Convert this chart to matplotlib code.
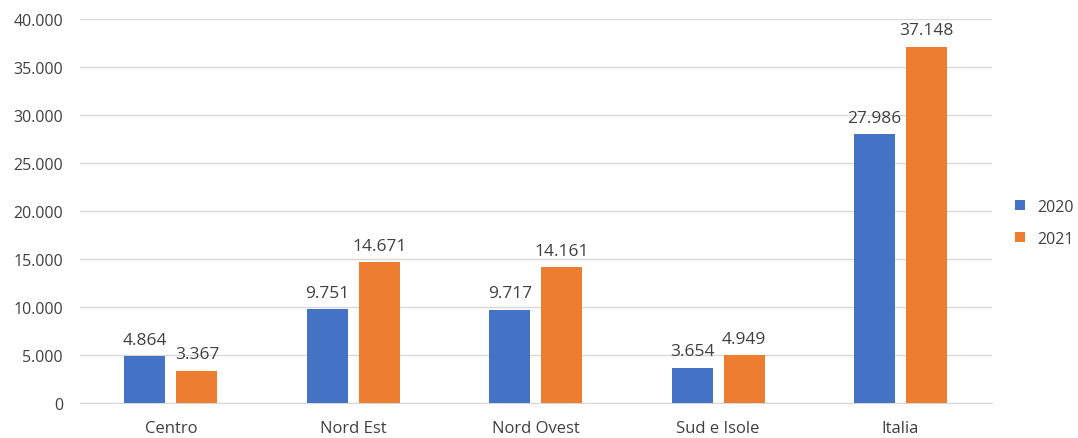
import numpy as np
import matplotlib.pyplot as plt
from matplotlib.ticker import FuncFormatter

# dati
categorie = ['Centro', 'Nord Est', 'Nord Ovest', 'Sud e Isole', 'Italia']
valori_2020 = [4864, 9751, 9717, 3654, 27986]
valori_2021 = [3367, 14671, 14161, 4949, 37148]

plt.rcParams['font.family'] = ['Open Sans', 'DejaVu Sans']

def fmt_it(v, pos=None):
    return f"{int(v):,}".replace(',', '.')

fig = plt.figure(figsize=(10.78, 4.39), dpi=100)
ax = fig.add_axes([0.074, 0.080, 0.846, 0.874])

x = np.arange(len(categorie))
w = 0.225
gap = 0.06
b1 = ax.bar(x - (w + gap) / 2, valori_2020, w, color='#4472C4', label='2020', zorder=3)
b2 = ax.bar(x + (w + gap) / 2, valori_2021, w, color='#ED7D31', label='2021', zorder=3)

for bars in (b1, b2):
    for r in bars:
        ax.annotate(fmt_it(r.get_height()), (r.get_x() + r.get_width() / 2, r.get_height()),
                    xytext=(0, 6), textcoords='offset points', ha='center', va='bottom',
                    fontsize=12.5, color='#404040')

ax.set_xlim(-0.5, len(categorie) - 0.5)
ax.set_ylim(0, 40000)
ax.set_yticks(range(0, 40001, 5000))
ax.yaxis.set_major_formatter(FuncFormatter(fmt_it))
ax.set_xticks(x)
ax.set_xticklabels(categorie)
ax.tick_params(axis='both', length=0, labelsize=11.5, colors='#404040')
ax.tick_params(axis='x', pad=12, labelsize=12)
ax.tick_params(axis='y', pad=12)
ax.grid(axis='y', color='#D9D9D9', linewidth=1, zorder=0)
for s in ['top', 'right', 'left']:
    ax.spines[s].set_visible(False)
ax.spines['bottom'].set_color('#D9D9D9')

ax.legend(loc='center left', bbox_to_anchor=(1.01, 0.47), frameon=False, fontsize=11.5,
          handlelength=0.6, handleheight=0.6, labelcolor='#404040', labelspacing=1.0)

fig.savefig('out.png', dpi=100)
